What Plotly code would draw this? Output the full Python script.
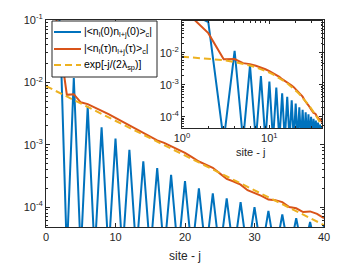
import plotly.graph_objects as go

# ---- data ----
sites = list(range(1, 41))
sites_fit = list(range(0, 41))

corr_0 = [0.25, 0.092, 1.8e-5, 1.17e-2, 1.8e-5, 4.1e-3, 1.8e-5, 1.9e-3, 1.8e-5, 1.26e-3,
          1.8e-5, 8.3e-4, 1.8e-5, 5.4e-4, 1.8e-5, 4.2e-4, 1.8e-5, 3.3e-4, 1.8e-5, 2.6e-4,
          1.8e-5, 2.0e-4, 1.8e-5, 1.66e-4, 1.8e-5, 1.38e-4, 1.8e-5, 1.2e-4, 1.8e-5, 1.0e-4,
          1.8e-5, 8.7e-5, 1.8e-5, 7.6e-5, 1.8e-5, 6.6e-5, 1.8e-5, 5.75e-5, 1.8e-5, 5.0e-5]

corr_tau = [0.257, 0.0417, 6.31e-3, 6.46e-3, 4.79e-3, 4.47e-3, 3.98e-3, 3.55e-3, 3.09e-3, 2.69e-3,
            2.34e-3, 2.04e-3, 1.78e-3, 1.51e-3, 1.35e-3, 1.17e-3, 1.07e-3, 9.55e-4, 8.51e-4, 7.41e-4,
            6.31e-4, 5.37e-4, 4.79e-4, 4.27e-4, 3.47e-4, 2.82e-4, 2.57e-4, 2.29e-4, 1.86e-4, 1.70e-4,
            1.51e-4, 1.32e-4, 1.29e-4, 1.20e-4, 1.00e-4, 9.55e-5, 8.32e-5, 8.51e-5, 7.76e-5, 6.61e-5]

fit_vals = [8.71e-3, 7.66e-3, 6.74e-3, 5.93e-3, 5.22e-3, 4.59e-3, 4.03e-3, 3.55e-3, 3.12e-3, 2.75e-3,
            2.42e-3, 2.13e-3, 1.87e-3, 1.64e-3, 1.45e-3, 1.27e-3, 1.12e-3, 9.84e-4, 8.66e-4, 7.62e-4,
            6.70e-4, 5.89e-4, 5.18e-4, 4.56e-4, 4.01e-4, 3.53e-4, 3.10e-4, 2.73e-4, 2.40e-4, 2.11e-4,
            1.86e-4, 1.63e-4, 1.44e-4, 1.26e-4, 1.11e-4, 9.78e-5, 8.61e-5, 7.57e-5, 6.66e-5, 5.86e-5,
            5.15e-5]

names = ["|&lt;n<sub>l</sub>(0)n<sub>l+j</sub>(0)&gt;<sub>c</sub>|",
         "|&lt;n<sub>l</sub>(τ)n<sub>l+j</sub>(τ)&gt;<sub>c</sub>|",
         "exp[-j/(2λ<sub>sp</sub>)]"]

x_title = "site - j"
y_ticks = [1e-4, 1e-3, 1e-2, 1e-1]
y_ticktext = ["10<sup>-4</sup>", "10<sup>-3</sup>", "10<sup>-2</sup>", "10<sup>-1</sup>"]

BLUE = "#0072BD"
ORANGE = "#D95319"
YELLOW = "#EDB120"
AX = "#262626"
FONT = "Liberation Sans"
DASH = "7px,4px"

W, H = 357, 263

fig = go.Figure()

# main plot
fig.add_trace(go.Scatter(x=sites, y=corr_0, mode="lines", line=dict(color=BLUE, width=2),
                         name=names[0], xaxis="x", yaxis="y"))
fig.add_trace(go.Scatter(x=sites, y=corr_tau, mode="lines", line=dict(color=ORANGE, width=2),
                         name=names[1], xaxis="x", yaxis="y"))
fig.add_trace(go.Scatter(x=sites_fit, y=fit_vals, mode="lines",
                         line=dict(color=YELLOW, width=2, dash=DASH),
                         name=names[2], xaxis="x", yaxis="y"))
# inset
fig.add_trace(go.Scatter(x=sites, y=corr_0, mode="lines", line=dict(color=BLUE, width=2),
                         showlegend=False, xaxis="x2", yaxis="y2"))
fig.add_trace(go.Scatter(x=sites, y=corr_tau, mode="lines", line=dict(color=ORANGE, width=2),
                         showlegend=False, xaxis="x2", yaxis="y2"))
fig.add_trace(go.Scatter(x=sites_fit[1:], y=fit_vals[1:], mode="lines",
                         line=dict(color=YELLOW, width=2, dash=DASH),
                         showlegend=False, xaxis="x2", yaxis="y2"))

minor_log_y = [m * 10.0 ** e for e in range(-5, 0) for m in range(2, 10)]
minor_log_x = [2, 3, 4, 5, 6, 7, 8, 9, 20, 30, 40]

common = dict(showline=True, linecolor=AX, linewidth=1, mirror="ticks", ticks="inside",
              tickcolor=AX, showgrid=False, zeroline=False, automargin=False,
              tickfont=dict(family=FONT, size=11, color=AX))


def px(x):
    return x / W


def py(y):
    return 1 - y / H


# ---- boxed key in the upper left of the main axes ----
shapes = [dict(type="rect", xref="paper", yref="paper", x0=px(52), x1=px(157),
               y0=py(77), y1=py(21), fillcolor="white", line=dict(color=AX, width=1),
               layer="above")]
annotations = []
legend_colors = [BLUE, ORANGE, YELLOW]
legend_dash = ["solid", "solid", DASH]
row_y = [32, 49, 65]
for name, col, dsh, ry in zip(names, legend_colors, legend_dash, row_y):
    shapes.append(dict(type="line", xref="paper", yref="paper", x0=px(54), x1=px(81),
                       y0=py(ry), y1=py(ry), line=dict(color=col, width=2, dash=dsh),
                       layer="above"))
    annotations.append(dict(xref="paper", yref="paper", x=px(82), y=py(ry), text=name,
                            showarrow=False, xanchor="left", yanchor="middle",
                            font=dict(family=FONT, size=10.5, color="black")))

# axis titles
annotations.append(dict(xref="paper", yref="paper", x=px(185), y=py(256), text=x_title,
                        showarrow=False, xanchor="center", yanchor="middle",
                        font=dict(family=FONT, size=12, color=AX)))
annotations.append(dict(xref="paper", yref="paper", x=px(251), y=py(152), text=x_title,
                        showarrow=False, xanchor="center", yanchor="middle",
                        font=dict(family=FONT, size=11, color=AX)))

fig.update_layout(
    width=W, height=H,
    margin=dict(l=0, r=0, t=0, b=0),
    paper_bgcolor="white", plot_bgcolor="white",
    font=dict(family=FONT, size=11, color=AX),
    showlegend=False,
    xaxis=dict(domain=[46 / W, 324 / W], range=[0, 40], dtick=10, ticklen=4,
               anchor="y", **common),
    yaxis=dict(domain=[1 - 227 / H, 1 - 20 / H], type="log", range=[-4.32, -1],
               tickvals=y_ticks, ticktext=y_ticktext, ticklen=4,
               minor=dict(tickvals=minor_log_y, ticks="inside", ticklen=2, tickcolor=AX),
               anchor="x", **common),
    xaxis2=dict(domain=[182 / W, 322 / W], type="log", range=[0, 1.602],
                tickvals=[1, 10], ticktext=["10<sup>0</sup>", "10<sup>1</sup>"], ticklen=3,
                minor=dict(tickvals=minor_log_x, ticks="inside", ticklen=2, tickcolor=AX),
                anchor="y2", **common),
    yaxis2=dict(domain=[1 - 128 / H, 1 - 21 / H], type="log", range=[-4.35, -1],
                tickvals=y_ticks[:3], ticktext=y_ticktext[:3], ticklen=3,
                minor=dict(tickvals=minor_log_y, ticks="inside", ticklen=1.5, tickcolor=AX),
                anchor="x2", **common),
    shapes=shapes,
    annotations=annotations,
)

fig.write_html("out.html", config={"displayModeBar": False},
               post_script="document.body.style.margin='0px';")
